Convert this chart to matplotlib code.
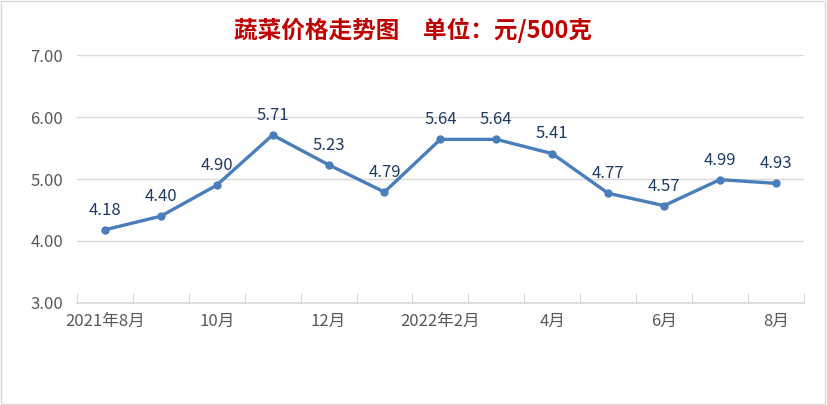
import matplotlib
matplotlib.use("Agg")
import matplotlib.pyplot as plt
from matplotlib.patches import Rectangle

plt.rcParams['font.family'] = ['Noto Sans CJK SC', 'DejaVu Sans']

months = ["2021年8月", "9月", "10月", "11月", "12月", "2022年1月", "2022年2月",
          "3月", "4月", "5月", "6月", "7月", "8月"]
prices = [4.18, 4.40, 4.90, 5.71, 5.23, 4.79, 5.64, 5.64, 5.41, 4.77, 4.57, 4.99, 4.93]
shown_labels = ["2021年8月", "", "10月", "", "12月", "", "2022年2月", "", "4月", "", "6月", "", "8月"]
y_ticks = [3.0, 4.0, 5.0, 6.0, 7.0]
title = "蔬菜价格走势图　单位：元/500克"

fig = plt.figure(figsize=(8.27, 4.05), dpi=100)
ax = fig.add_axes([0.093, 0.252, 0.879, 0.612])

x = list(range(len(prices)))
ax.plot(x, prices, color="#4A7EBB", lw=2.4, marker="o", ms=5, zorder=3)
for xi, v in zip(x, prices):
    ax.annotate(f"{v:.2f}", (xi, v), xytext=(0, 8), textcoords="offset points",
                ha="center", va="bottom", fontsize=12, color="#1F3B64")

ax.set_xlim(-0.5, len(prices) - 0.5)
ax.set_ylim(3, 7)
ax.set_yticks(y_ticks)
ax.set_yticklabels([f"{t:.2f}" for t in y_ticks], fontsize=12, color="#595959")
ax.yaxis.grid(True, color="#D9D9D9", lw=1)
ax.set_axisbelow(True)
ax.tick_params(axis='y', length=0, pad=10)

ax.set_xticks([i + 0.5 for i in range(-1, len(prices))], minor=False)
ax.set_xticklabels([])
ax.tick_params(axis='x', which='major', direction='in', length=7, color="#D9D9D9")
ax.set_xticks(x, minor=True)
ax.set_xticklabels(shown_labels, minor=True, fontsize=12, color="#595959")
ax.tick_params(axis='x', which='minor', length=0, pad=7)

for s in ["top", "right", "left"]:
    ax.spines[s].set_visible(False)
ax.spines["bottom"].set_color("#D9D9D9")
ax.spines["bottom"].set_linewidth(1.2)

fig.text(0.5, 0.925, title, ha="center", va="center", fontsize=17, fontweight="bold",
         color="#C00000")

fig.patches.append(Rectangle((0.001, 0.002), 0.997, 0.995, transform=fig.transFigure,
                             fill=False, edgecolor="#D9D9D9", lw=1))

fig.savefig("out.png", dpi=100, facecolor="white")
